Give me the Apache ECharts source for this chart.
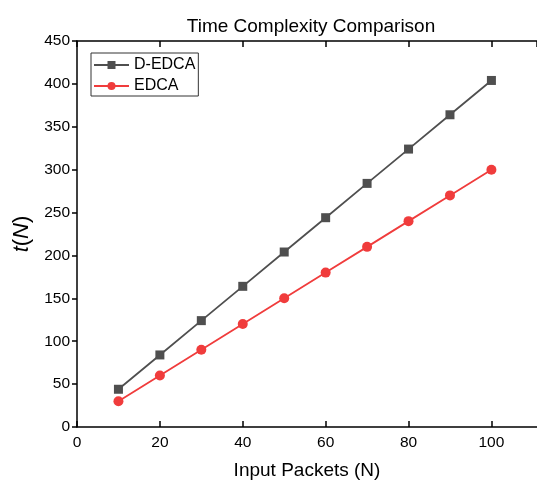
<!DOCTYPE html>
<html><head><meta charset="utf-8">
<script src="https://cdn.jsdelivr.net/npm/echarts@6/dist/echarts.min.js"></script>
<style>html,body{margin:0;padding:0;background:#fff}#c{width:537px;height:482px}</style>
</head><body><div id="c"></div>
<script>
var xValues = [10, 20, 30, 40, 50, 60, 70, 80, 90, 100];
var dedca = [44, 84, 124, 164, 204, 244, 284, 324, 364, 404];
var edca = [30, 60, 90, 120, 150, 180, 210, 240, 270, 300];
var seriesNames = ['D-EDCA', 'EDCA'];

var chart = echarts.init(document.getElementById('c'));
var font = 'Liberation Sans, Arial, sans-serif';
function pairs(xs, ys){ return xs.map(function(x,i){return [x, ys[i]];}); }
chart.setOption({
  animation: false,
  title: { text: 'Time Complexity Comparison', left: 306, textAlign: 'center', top: 12,
    textStyle: { fontFamily: font, fontSize: 19, fontWeight: 'normal', color: '#000' } },
  grid: { left: 77, top: 41, right: 0, bottom: 55, outerBoundsMode: 'none', containLabel: false },
  legend: {
    left: 91, top: 53, orient: 'vertical', itemWidth: 35, itemHeight: 10, itemGap: 5,
    padding: [4, 3, 2, 2], borderColor: '#333', borderWidth: 1, backgroundColor: '#fff',
    textStyle: { fontFamily: font, fontSize: 16, color: '#000' }, data: seriesNames
  },
  xAxis: [{
    type: 'value', min: 0, max: 111, interval: 20,
    name: 'Input Packets (N)', nameLocation: 'middle', nameGap: 34,
    nameTextStyle: { fontFamily: font, fontSize: 19, color: '#000' },
    axisLine: { lineStyle: { color: '#000', width: 1.5 } },
    axisTick: { inside: true, length: 6, lineStyle: { color: '#000', width: 1.5 } },
    axisLabel: { fontFamily: font, fontSize: 15.5, color: '#000', showMaxLabel: false, margin: 8 },
    splitLine: { show: false }
  }, {
    type: 'value', position: 'top', min: 0, max: 111, interval: 20,
    axisLine: { show: true, lineStyle: { color: '#000', width: 1.5 } },
    axisTick: { show: true, inside: true, length: 6, lineStyle: { color: '#000', width: 1.5 } },
    axisLabel: { show: false }, splitLine: { show: false }
  }],
  yAxis: {
    type: 'value', min: 0, max: 450, interval: 50,
    name: '{i|t}({i|N})', nameLocation: 'middle', nameGap: 41, nameRotate: 90,
    nameTextStyle: { fontFamily: font, fontSize: 22, color: '#000',
      rich: { i: { fontStyle: 'italic', fontFamily: font, fontSize: 22, color: '#000' } } },
    axisLine: { show: true, lineStyle: { color: '#000', width: 1.5 } },
    axisTick: { show: true, inside: false, length: 5, lineStyle: { color: '#000', width: 1.5 } },
    axisLabel: { fontFamily: font, fontSize: 15.5, color: '#000', margin: 7 },
    splitLine: { show: false }
  },
  series: [{
    name: seriesNames[0], type: 'line', data: pairs(xValues, dedca),
    symbol: 'rect', symbolSize: 9, color: '#4f4f4f',
    lineStyle: { width: 1.8, color: '#4f4f4f' }, itemStyle: { color: '#4f4f4f' }
  }, {
    name: seriesNames[1], type: 'line', data: pairs(xValues, edca),
    symbol: 'circle', symbolSize: 10, color: '#f03c3c',
    lineStyle: { width: 1.8, color: '#f03c3c' }, itemStyle: { color: '#f03c3c' }
  }]
});
</script></body></html>
